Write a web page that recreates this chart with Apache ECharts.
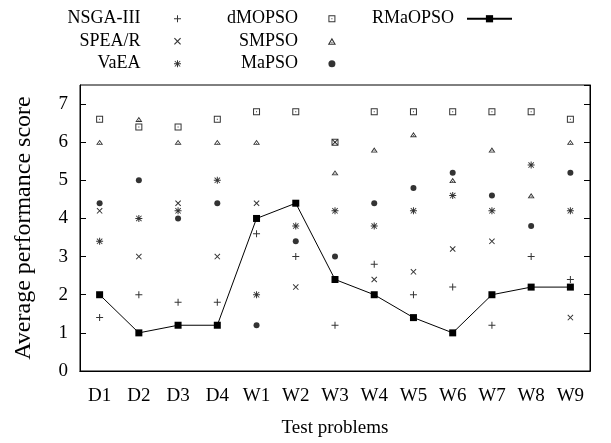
<!DOCTYPE html>
<html>
<head>
<meta charset="utf-8">
<script src="https://cdn.jsdelivr.net/npm/echarts@6/dist/echarts.min.js"></script>
<style>
html,body{margin:0;padding:0;background:#fff;}
#chart{width:611px;height:443px;}
</style>
</head>
<body>
<div id="chart"></div>
<script>
var categories = ['D1','D2','D3','D4','W1','W2','W3','W4','W5','W6','W7','W8','W9'];
var yTicks = [0,1,2,3,4,5,6,7];
var nsga3   = [1.4,2.0,1.8,1.8,3.6,3.0,1.2,2.8,2.0,2.2,1.2,3.0,2.4];
var spear   = [4.2,3.0,4.4,3.0,4.4,2.2,6.0,2.4,2.6,3.2,3.4,2.2,1.4];
var vaea    = [3.4,4.0,4.2,5.0,2.0,3.8,4.2,3.8,4.2,4.6,4.2,5.4,4.2];
var dmopso  = [6.6,6.4,6.4,6.6,6.8,6.8,6.0,6.8,6.8,6.8,6.8,6.8,6.6];
var smpso   = [6.0,6.6,6.0,6.0,6.0,4.4,5.2,5.8,6.2,5.0,5.8,4.6,6.0];
var mapso   = [4.4,5.0,4.0,4.4,1.2,3.4,3.0,4.4,4.8,5.2,4.6,3.8,5.2];
var rmaopso = [2.0,1.0,1.2,1.2,4.0,4.4,2.4,2.0,1.4,1.0,2.0,2.2,2.2];

var FONT = '"Liberation Serif","DejaVu Serif",serif';
var SYM_PLUS = 'path://M0,3L7,3L7,4L0,4Z M3,0L4,0L4,7L3,7Z';
var SYM_CROSS = 'path://M0,0.7L0.7,0L6,5.3L5.3,6Z M5.3,0L6,0.7L0.7,6L0,5.3Z';
var SYM_STAR = 'path://M0,3L7,3L7,4L0,4Z M3,0L4,0L4,7L3,7Z M0.5,1.1L1.1,0.5L6.5,5.9L5.9,6.5Z M5.9,0.5L6.5,1.1L1.1,6.5L0.5,5.9Z';
var SYM_SQDOT = 'path://M0,0L7,0L7,7L0,7Z M1,1L1,6L6,6L6,1Z M3,3L4,3L4,4L3,4Z';
var SYM_TRIDOT = 'path://M3.5,0L7,6L0,6Z M3.5,2L1.7,5.1L5.3,5.1Z M3,3.8L4,3.8L4,4.8L3,4.8Z';

function scatter(name, data, symbol, size) {
  return {
    name: name, type: 'scatter', data: data,
    symbol: symbol, symbolSize: size, symbolKeepAspect: true,
    itemStyle: {color: '#000'},
    xAxisIndex: 0, yAxisIndex: 0, z: 2
  };
}

var legendText = {fontFamily: FONT, fontSize: 18, color: '#000', lineHeight: 22.5};

var option = {
  animation: false,
  backgroundColor: '#fff',
  grid: {left: 80, right: 21, top: 85, bottom: 65, show: true, borderColor: '#000', borderWidth: 1},
  legend: [
    {data: ['NSGA-III','SPEA/R','VaEA'], orient: 'vertical', align: 'right', right: 430, top: 7.5,
     padding: 0, itemGap: 0, itemWidth: 64, itemHeight: 7, textStyle: legendText, selectedMode: false},
    {data: ['dMOPSO','SMPSO','MaPSO'], orient: 'vertical', align: 'right', right: 275, top: 7.5,
     padding: 0, itemGap: 0, itemWidth: 58, itemHeight: 7, textStyle: legendText, selectedMode: false},
    {data: ['RMaOPSO'], orient: 'vertical', align: 'right', right: 98, top: 7.5,
     padding: 0, itemGap: 0, itemWidth: 45, itemHeight: 9,
     textStyle: {fontFamily: FONT, fontSize: 18, color: '#000', lineHeight: 22.5, padding: [0, 8, 0, 0]}, selectedMode: false}
  ],
  xAxis: [
    {type: 'category', data: categories, boundaryGap: true, position: 'bottom',
     axisLine: {lineStyle: {color: '#000', width: 1}},
     axisTick: {inside: true, alignWithLabel: true, length: 5, lineStyle: {color: '#000'}},
     axisLabel: {fontFamily: FONT, fontSize: 19, color: '#000', margin: 16},
     splitLine: {show: false},
     name: 'Test problems', nameLocation: 'middle', nameGap: 48,
     nameTextStyle: {fontFamily: FONT, fontSize: 19, color: '#000'}},
    {type: 'category', data: categories, boundaryGap: true, position: 'top',
     axisLine: {lineStyle: {color: '#000', width: 1}},
     axisTick: {inside: true, alignWithLabel: true, length: 5, lineStyle: {color: '#000'}},
     axisLabel: {show: false}, splitLine: {show: false}}
  ],
  yAxis: [
    {type: 'value', min: 0, max: 7.5, interval: 1, position: 'left',
     axisLine: {show: true, lineStyle: {color: '#000', width: 1}},
     axisTick: {show: true, inside: true, length: 6, lineStyle: {color: '#000'}},
     axisLabel: {fontFamily: FONT, fontSize: 19, color: '#000', margin: 12, showMaxLabel: false,
       formatter: function (v) { return yTicks.indexOf(v) >= 0 ? String(v) : ''; }},
     splitLine: {show: false},
     name: 'Average performance score', nameLocation: 'middle', nameGap: 44, nameRotate: 90,
     nameTextStyle: {fontFamily: FONT, fontSize: 24, color: '#000'}},
    {type: 'value', min: 0, max: 7.5, interval: 1, position: 'right',
     axisLine: {show: true, lineStyle: {color: '#000', width: 1}},
     axisTick: {show: true, inside: true, length: 6, lineStyle: {color: '#000'}},
     axisLabel: {show: false}, splitLine: {show: false}}
  ],
  series: [
    scatter('NSGA-III', nsga3, SYM_PLUS, 7),
    scatter('SPEA/R', spear, SYM_CROSS, 6),
    scatter('VaEA', vaea, SYM_STAR, 7),
    scatter('dMOPSO', dmopso, SYM_SQDOT, 7),
    scatter('SMPSO', smpso, SYM_TRIDOT, [7, 6]),
    scatter('MaPSO', mapso, 'circle', 6),
    {name: 'RMaOPSO', type: 'line', data: rmaopso, xAxisIndex: 0, yAxisIndex: 0,
     symbol: 'rect', symbolSize: 7, showAllSymbol: true, z: 5,
     itemStyle: {color: '#000'}, lineStyle: {color: '#000', width: 1}}
  ]
};
echarts.init(document.getElementById('chart'), null, {renderer: 'canvas'}).setOption(option);
</script>
</body>
</html>
